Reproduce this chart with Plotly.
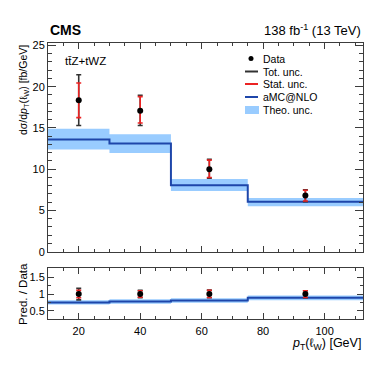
import plotly.graph_objects as go

# ---------------- data ----------------
bin_edges = [10, 30, 50, 75, 112.5]
bin_centers = [20, 40, 62.5, 93.75]
data = [18.35, 17.1, 10.0, 6.8]
tot_up = [3.1, 1.85, 1.2, 0.7]
tot_dn = [3.05, 1.8, 1.1, 0.75]
stat_up = [2.1, 1.7, 1.1, 0.65]
stat_dn = [2.1, 1.5, 1.0, 0.65]

pred = [13.6, 13.1, 8.05, 6.05]
pred_hi = [14.9, 14.25, 8.8, 6.5]
pred_lo = [12.4, 11.95, 7.35, 5.5]

ratio_data = [1.0, 1.0, 1.0, 1.0]
ratio_tot_up = [0.17, 0.11, 0.12, 0.10]
ratio_tot_dn = [0.17, 0.11, 0.11, 0.11]
ratio_stat_up = [0.11, 0.10, 0.11, 0.10]
ratio_stat_dn = [0.11, 0.09, 0.10, 0.10]
ratio_pred = [0.75, 0.78, 0.81, 0.89]
ratio_hi = [0.82, 0.85, 0.88, 0.96]
ratio_lo = [0.69, 0.71, 0.74, 0.82]

x_ticks = [20, 40, 60, 80, 100]
main_y_ticks = [0, 5, 10, 15, 20, 25]
ratio_y_ticks = [0.5, 1, 1.5]
ratio_y_labels = ["0.5", "1", "1.5"]

# ---------------- style ----------------
FONT = "Liberation Sans"
BAND = "rgb(153,204,255)"
PRED = "rgb(30,70,170)"
TOT = "rgb(50,50,50)"
STAT = "rgb(235,35,35)"
AX = "rgb(60,60,60)"

W, H = 374, 367
L, R, T, B = 48, 11, 43, 48
PW, PH = W - L - R, H - T - B


def px(x):
    return (x - L) / PW


def py(y):
    return (H - B - y) / PH


def step(v):
    return list(v) + [v[-1]]


fig = go.Figure()


def add_panel(ya, xa, lo, hi, mid, yv, eu, ed, su, sd):
    fig.add_trace(go.Scatter(x=bin_edges, y=step(lo), mode="lines", line=dict(width=0, shape="hv"),
                             xaxis=xa, yaxis=ya, showlegend=False, hoverinfo="skip"))
    fig.add_trace(go.Scatter(x=bin_edges, y=step(hi), mode="lines", line=dict(width=0, shape="hv"),
                             fill="tonexty", fillcolor=BAND, xaxis=xa, yaxis=ya, showlegend=False))
    fig.add_trace(go.Scatter(x=bin_edges, y=step(mid), mode="lines", line=dict(width=2, color=PRED, shape="hv"),
                             xaxis=xa, yaxis=ya, showlegend=False))
    fig.add_trace(go.Scatter(x=bin_centers, y=yv, mode="markers", marker=dict(size=1, color="rgba(0,0,0,0)"),
                             error_y=dict(type="data", symmetric=False, array=eu, arrayminus=ed,
                                          color=TOT, thickness=1.6, width=2.5),
                             xaxis=xa, yaxis=ya, showlegend=False))
    fig.add_trace(go.Scatter(x=bin_centers, y=yv, mode="markers", marker=dict(size=6, color="black"),
                             error_y=dict(type="data", symmetric=False, array=su, arrayminus=sd,
                                          color=STAT, thickness=1.6, width=2.5),
                             xaxis=xa, yaxis=ya, showlegend=False))


add_panel("y", "x", pred_lo, pred_hi, pred, data, tot_up, tot_dn, stat_up, stat_dn)
add_panel("y2", "x2", ratio_lo, ratio_hi, ratio_pred, ratio_data,
          ratio_tot_up, ratio_tot_dn, ratio_stat_up, ratio_stat_dn)

axis_common = dict(showline=True, linecolor=AX, linewidth=1, mirror="allticks", ticks="inside",
                   tickcolor=AX, showgrid=False, zeroline=False,
                   tickfont=dict(family=FONT, size=11, color="black"))

fig.update_layout(
    width=W, height=H, margin=dict(l=L, r=R, t=T, b=B),
    paper_bgcolor="white", plot_bgcolor="white", showlegend=False,
    font=dict(family=FONT, color="black"),
    xaxis=dict(axis_common, domain=[0, 1], range=[bin_edges[0], bin_edges[-1]], tickvals=x_ticks,
               showticklabels=False, ticklen=6, anchor="y",
               minor=dict(ticks="inside", ticklen=3, dtick=5, tick0=0, tickcolor=AX)),
    yaxis=dict(axis_common, domain=[0.244, 1], range=[0, 25.3], tickvals=main_y_ticks, ticklen=8,
               anchor="x", minor=dict(ticks="inside", ticklen=4, dtick=1, tick0=0, tickcolor=AX)),
    xaxis2=dict(axis_common, domain=[0, 1], range=[bin_edges[0], bin_edges[-1]], tickvals=x_ticks,
                ticklen=6, anchor="y2", ticklabelstandoff=2,
                minor=dict(ticks="inside", ticklen=3, dtick=5, tick0=0, tickcolor=AX)),
    yaxis2=dict(axis_common, domain=[0, 0.184], range=[0.26, 1.77], tickvals=ratio_y_ticks,
                ticktext=ratio_y_labels, ticklen=6, anchor="x2",
                minor=dict(ticks="inside", ticklen=3, dtick=0.25, tick0=0, tickcolor=AX)),
)

ann = []
ann.append(dict(x=px(48), y=py(30), xref="paper", yref="paper", text="<b>CMS</b>", showarrow=False,
                xanchor="left", yanchor="middle", font=dict(family=FONT, size=14)))
ann.append(dict(x=px(363), y=py(30), xref="paper", yref="paper", text="138 fb<sup>-1</sup> (13 TeV)",
                showarrow=False, xanchor="right", yanchor="middle", font=dict(family=FONT, size=13)))
ann.append(dict(x=px(63), y=py(61), xref="paper", yref="paper", text="tt\u0304Z+tWZ", showarrow=False,
                xanchor="left", yanchor="middle", font=dict(family=FONT, size=11.5)))
ann.append(dict(x=px(24), y=1.0, xref="paper", yref="paper", textangle=-90,
                text="d\u03c3/d<i>p</i><sub>T</sub>(\u2113<sub>W</sub>) [fb/GeV]", showarrow=False,
                xanchor="center", yanchor="top", font=dict(family=FONT, size=10.5)))
ann.append(dict(x=px(23), y=py(294), xref="paper", yref="paper", textangle=-90,
                text="Pred. / Data", showarrow=False, xanchor="center", yanchor="middle",
                font=dict(family=FONT, size=11.5)))
ann.append(dict(x=px(363), y=py(344), xref="paper", yref="paper",
                text="<i>p</i><sub>T</sub>(\u2113<sub>W</sub>) [GeV]", showarrow=False,
                xanchor="right", yanchor="middle", font=dict(family=FONT, size=12.5)))

# legend (manual)
leg_rows = [("Data", 58.5), ("Tot. unc.", 71.5), ("Stat. unc.", 84), ("aMC@NLO", 97), ("Theo. unc.", 110)]
for label, yy in leg_rows:
    ann.append(dict(x=px(261), y=py(yy), xref="paper", yref="paper", text=label, showarrow=False,
                    xanchor="left", yanchor="middle", font=dict(family=FONT, size=10.5)))

shapes = []
shapes.append(dict(type="circle", xref="paper", yref="paper", x0=px(248.5), x1=px(253.5),
                   y0=py(61), y1=py(56), fillcolor="black", line=dict(width=0)))
for (label, yy), col in zip(leg_rows[1:4], [TOT, STAT, PRED]):
    shapes.append(dict(type="line", xref="paper", yref="paper", x0=px(245), x1=px(258),
                       y0=py(yy), y1=py(yy), line=dict(color=col, width=2)))
shapes.append(dict(type="rect", xref="paper", yref="paper", x0=px(245), x1=px(259),
                   y0=py(114), y1=py(106), fillcolor=BAND, line=dict(width=0)))

fig.update_layout(annotations=ann, shapes=shapes)
fig.write_html("out.html", config={"displayModeBar": False},
               post_script="document.body.style.margin='0';document.body.style.padding='0';"
                           "document.documentElement.style.overflow='hidden';")
